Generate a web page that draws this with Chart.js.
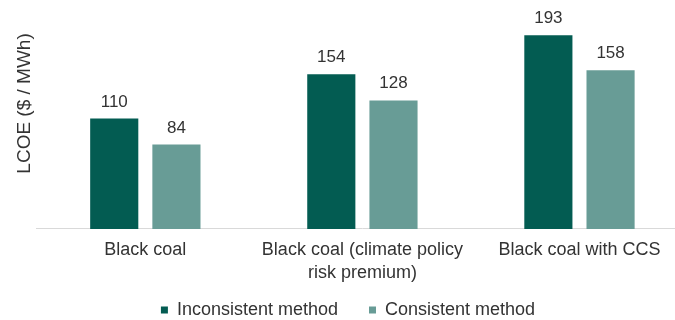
<!DOCTYPE html>
<html>
<head>
<meta charset="utf-8">
<script src="https://cdn.jsdelivr.net/npm/chart.js@4.4.1/dist/chart.umd.min.js"></script>
<style>
  html, body { margin: 0; padding: 0; background: #fff; }
  #wrap { position: relative; width: 675px; height: 320px; overflow: hidden; }
  #wrap canvas { position: absolute; left: 0; top: -30px; }
</style>
</head>
<body>
<div id="wrap"><canvas id="lcoeChart" width="690" height="359"></canvas></div>
<script>
// LCOE OF BLACK COAL BY METHOD

const categories = [
  "Black coal",
  ["Black coal (climate policy", "risk premium)"],
  "Black coal with CCS",
];
const seriesNames = ["Inconsistent method", "Consistent method"];
const inconsistent = [110, 154, 193];
const consistent = [84, 128, 158];

const darkTeal = "#035c52";
const lightTeal = "#689c96";
const textColor = "#333333";
const fontFamily = "'Liberation Sans', Arial, sans-serif";

// value labels above each bar
const barValues = {
  id: "barValues",
  afterDatasetsDraw(chart) {
    const ctx = chart.ctx;
    ctx.save();
    ctx.font = "17px " + fontFamily;
    ctx.fillStyle = textColor;
    ctx.textAlign = "center";
    ctx.textBaseline = "alphabetic";
    chart.data.datasets.forEach((ds, i) => {
      chart.getDatasetMeta(i).data.forEach((bar, j) => {
        ctx.fillText(ds.data[j], bar.x, bar.y - 12);
      });
    });
    ctx.restore();
  },
};

const ctx = document.getElementById("lcoeChart");

new Chart(ctx, {
  type: "bar",
  data: {
    labels: categories,
    datasets: [
      {
        label: seriesNames[0],
        data: inconsistent,
        backgroundColor: darkTeal,
      },
      {
        label: seriesNames[1],
        data: consistent,
        backgroundColor: lightTeal,
      },
    ],
  },
  options: {
    responsive: false,
    animation: false,
    categoryPercentage: 0.573,
    barPercentage: 0.774,
    layout: {
      padding: { top: 8, left: 8, right: 2, bottom: 0 },
    },
    scales: {
      x: {
        grid: { display: false, drawTicks: false },
        border: { color: "#d9d9d9", width: 1 },
        ticks: {
          color: textColor,
          padding: 10,
          maxRotation: 0,
          font: { family: fontFamily, size: 18, lineHeight: 1.28 },
        },
      },
      y: {
        min: 0,
        max: 250,
        grid: { display: false, drawTicks: false },
        border: { display: false },
        ticks: { display: false },
        title: {
          display: true,
          text: "LCOE ($ / MWh)",
          color: textColor,
          padding: { top: 5, bottom: 1 },
          font: { family: fontFamily, size: 19 },
        },
      },
    },
    plugins: {
      tooltip: { enabled: false },
      legend: {
        position: "bottom",
        labels: {
          color: textColor,
          boxWidth: 7,
          boxHeight: 7,
          padding: 6,
          font: { family: fontFamily, size: 18 },
          // a little extra room between the two legend entries
          generateLabels(chart) {
            const items = Chart.defaults.plugins.legend.labels.generateLabels(chart);
            items[0].text += "     ";
            return items;
          },
        },
      },
    },
  },
  plugins: [barValues],
});
</script>
</body>
</html>
